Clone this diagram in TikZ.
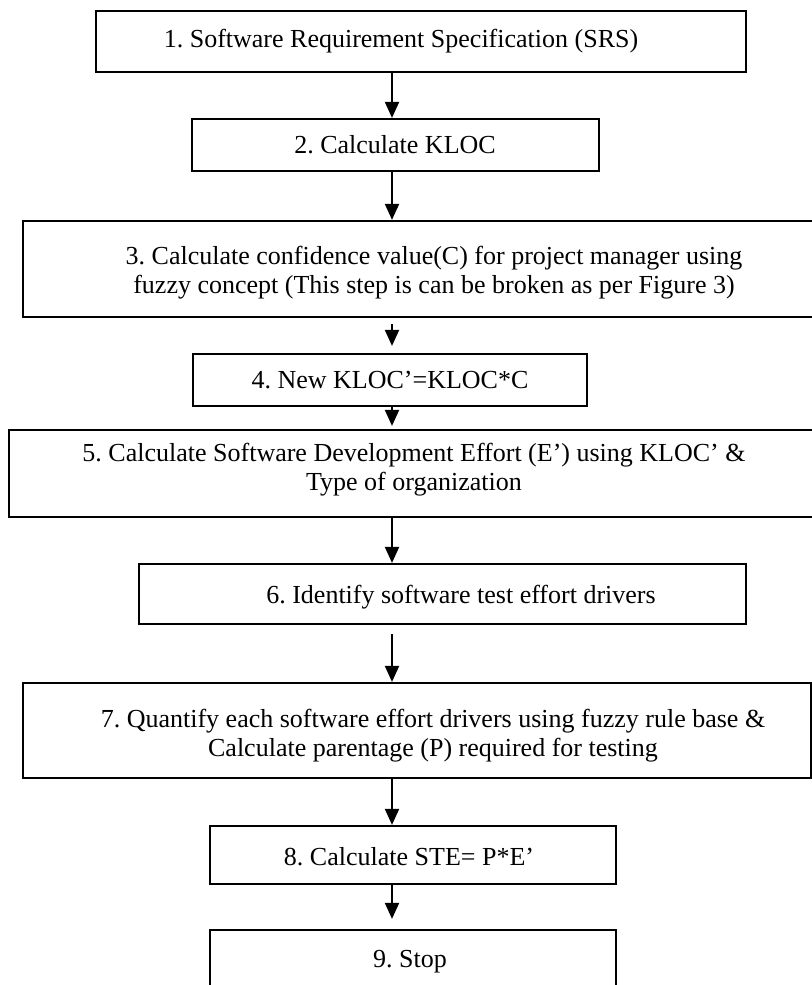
\documentclass[tikz,border=0pt]{standalone}
\usepackage{fontspec}
\setmainfont{Liberation Serif}
\usetikzlibrary{arrows.meta}
\frenchspacing

\tikzset{
    box/.style={draw, line width=1.1pt, inner sep=0pt},
    txt/.style={inner sep=0pt, align=center, font=\fontsize{13}{14.5}\selectfont},
    flow/.style={line width=1pt, -{Triangle[width=7pt, length=8pt]}}
}

\begin{document}
\begin{tikzpicture}[x=0.5pt, y=-0.5pt]
    \useasboundingbox (0, 0) rectangle (812, 985);
    \clip (0, 0) rectangle (812, 985);
    % boxes
    \node[box, minimum width=325pt, minimum height=30.5pt] (b1) at (421, 41.5) {};
    \node[box, minimum width=203.5pt, minimum height=26pt] (b2) at (395.5, 145) {};
    \node[box, minimum width=403.5pt, minimum height=48pt] (b3) at (426.5, 269) {};
    \node[box, minimum width=197pt, minimum height=26pt] (b4) at (390, 380) {};
    \node[box, minimum width=410.5pt, minimum height=43.5pt] (b5) at (419.5, 473.5) {};
    \node[box, minimum width=303.5pt, minimum height=30pt] (b6) at (442.5, 594) {};
    \node[box, minimum width=394pt, minimum height=47.5pt] (b7) at (417, 730.5) {};
    \node[box, minimum width=203pt, minimum height=29pt] (b8) at (413, 855) {};
    \node[box, minimum width=203pt, minimum height=35pt] (b9) at (413, 965) {};
    % texts
    \node[txt] (t1) at (401, 41) {1. Software Requirement Specification (SRS)};
    \node[txt] (t2) at (395, 145) {2. Calculate KLOC};
    \node[txt] (t3) at (434, 273) {3. Calculate confidence value(C) for project manager using\\fuzzy concept (This step is can be broken as per Figure 3)};
    \node[txt] (t4) at (390, 380) {4. New KLOC’=KLOC*C};
    \node[txt] (t5) at (414, 470) {5. Calculate Software Development Effort (E’) using KLOC’ \&\\Type of organization};
    \node[txt] (t6) at (461, 597) {6. Identify software test effort drivers};
    \node[txt] (t7) at (433, 736) {7. Quantify each software effort drivers using fuzzy rule base \&\\Calculate parentage (P) required for testing};
    \node[txt] (t8) at (409, 857) {8. Calculate STE= P*E’};
    \node[txt] (t9) at (410, 962) {9. Stop};
    % arrows
    \coordinate (col) at (392, 0);
    \draw[flow] (b1.south -| col) -- (b2.north -| col);
    \draw[flow] (b2.south -| col) -- (b3.north -| col);
    \draw[flow, shorten <=3pt, shorten >=3.5pt] (b3.south -| col) -- (b4.north -| col);
    \draw[flow, shorten >=1.5pt] (b4.south -| col) -- (b5.north -| col);
    \draw[flow] (b5.south -| col) -- (b6.north -| col);
    \draw[flow, shorten <=4.5pt] (b6.south -| col) -- (b7.north -| col);
    \draw[flow] (b7.south -| col) -- (b8.north -| col);
    \draw[flow, shorten >=5pt] (b8.south -| col) -- (b9.north -| col);
\end{tikzpicture}
\end{document}
